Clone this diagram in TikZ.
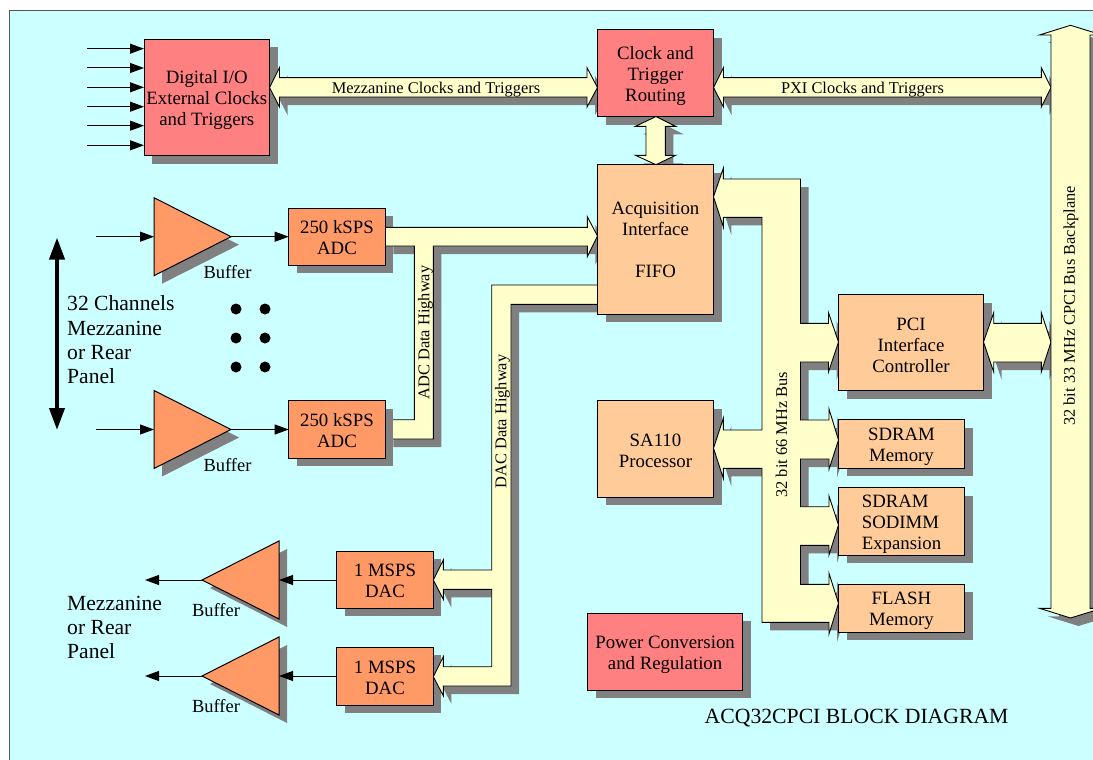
\documentclass[tikz,border=0pt]{standalone}
\usepackage{fontspec}
\setmainfont{Liberation Serif}
\usetikzlibrary{arrows.meta,shapes.geometric}
\definecolor{bgc}{HTML}{CCFFFF}
\definecolor{redc}{HTML}{FF8080}
\definecolor{orangec}{HTML}{FF9966}
\definecolor{peachc}{HTML}{FFCC99}
\definecolor{creamc}{HTML}{FFFFCC}
\definecolor{shc}{HTML}{808080}
\definecolor{framec}{HTML}{555555}
\pgfdeclarelayer{bshadow}
\pgfdeclarelayer{buslayer}
\pgfdeclarelayer{topshadow}
\pgfsetlayers{bshadow,buslayer,topshadow,main}
\tikzset{
  block/.style={draw=black,line width=1pt,inner sep=0pt,outer sep=0pt,align=center,
    font=\fontsize{18.8}{21}\selectfont},
  redblock/.style={block,fill=redc},
  peachblock/.style={block,fill=peachc},
  orangeblock/.style={block,fill=orangec},
  bus/.style={draw=black,line width=.9pt,fill=creamc,
    preaction={fill=shc,draw=none,transform canvas={shift={(8pt,-8pt)}}}},
  buf/.style={isosceles triangle,isosceles triangle stretches=true,draw=black,line width=1pt,
    fill=orangec,inner sep=0pt,outer sep=0pt,minimum height=77pt,minimum width=78pt,
    preaction={fill=shc,draw=none,transform canvas={shift={(8pt,-8pt)}}}},
  sig/.style={line width=1pt,-{Triangle[length=14pt,width=10pt]}},
  thickarrow/.style={line width=4pt,{Triangle[length=22pt,width=15pt]}-{Triangle[length=22pt,width=15pt]}},
  buflabel/.style={inner sep=0pt,font=\fontsize{18.5}{21}\selectfont},
  buslabel/.style={inner sep=0pt,font=\fontsize{16.4}{18}\selectfont},
  sidelabel/.style={inner sep=0pt,anchor=west,align=left,font=\fontsize{21.6}{24.3}\selectfont},
  blob/.style={circle,fill=black,inner sep=0pt,minimum size=11pt},
}
\newcommand{\dn}[1]{\rule{0pt}{\dimexpr 13pt+#1pt+#1pt\relax}}
\newcommand{\blkn}[7]{%
  \pgfmathsetmacro\rkW{#5-#3}\pgfmathsetmacro\rkH{#6-#4}%
  \pgfmathsetmacro\rkX{(#3+#5)/2}\pgfmathsetmacro\rkY{(#4+#6)/2}%
  \node[#1,minimum width=\rkW pt,minimum height=\rkH pt] (#2) at (\rkX,\rkY) {#7};}
\newcommand{\shadowof}[2]{%
  \begin{pgfonlayer}{#2}
    \fill[shc] ([shift={(8,8)}]#1.north west) rectangle ([shift={(8,8)}]#1.south east);
  \end{pgfonlayer}}
\newcommand{\blk}[7]{\blkn{#1}{#2}{#3}{#4}{#5}{#6}{#7}\shadowof{#2}{bshadow}}
\begin{document}
\begin{tikzpicture}[x=1pt,y=-1pt]
\useasboundingbox (0,0) rectangle (1093,760);
\begin{pgfonlayer}{bshadow}
  \fill[white] (0,0) rectangle (1093,760);
  \draw[framec,fill=bgc,line width=1pt] (9.5,10.5) rectangle (1100,770);
\end{pgfonlayer}

% blocks
\blk{redblock}{digio}{144}{39.5}{269.5}{155.5}{\dn{3}Digital I/O\\External Clocks\\and Triggers}
\blk{redblock}{clock}{597.5}{30}{713.5}{116.5}{\dn{3}Clock and\\Trigger\\Routing}
\blk{peachblock}{acq}{597.5}{164.7}{713.5}{314.3}{\dn{0.5}Acquisition\\Interface\\[21pt]FIFO}
\blk{peachblock}{pci}{838.5}{294.7}{983.5}{390.7}{\dn{2}PCI\\Interface\\Controller}
\blk{peachblock}{sa}{597.5}{400.7}{713.5}{497.3}{\dn{2}SA110\\Processor}
\blk{peachblock}{sdram}{838.5}{419.7}{964.5}{468.3}{\dn{2.5}SDRAM\\Memory}
\blkn{peachblock,align=left}{sodimm}{838.5}{487.7}{964.5}{555}{\dn{2.5}SDRAM\\SODIMM\\Expansion}\shadowof{sodimm}{bshadow}
\blk{peachblock}{flash}{838.5}{584.3}{964.5}{632.3}{\dn{2.5}FLASH\\Memory}
\blk{redblock}{power}{587.5}{613}{742.7}{690}{\dn{3}Power Conversion\\and Regulation}
\blk{orangeblock}{adca}{288.7}{208}{385.3}{265.3}{\dn{1}250 kSPS\\ADC}
\blkn{orangeblock}{adcb}{288.7}{400.7}{385.3}{458}{\dn{1}250 kSPS\\ADC}\shadowof{adcb}{topshadow}
\blk{orangeblock}{daca}{336.7}{551}{433.3}{608.3}{\dn{1}1 MSPS\\DAC}
\blk{orangeblock}{dacb}{336.7}{647}{433.3}{705.3}{\dn{1}1 MSPS\\DAC}

% block arrows
\begin{pgfonlayer}{buslayer}
\draw[bus] (269.5,87.5) -- (279.5,67.7) -- (279.5,77.7) -- (587,77.7) -- (587,67.7) -- (597.5,87.5)
  -- (587,107) -- (587,97) -- (279.5,97) -- (279.5,107) -- cycle;
\draw[bus] (713.5,87.5) -- (723.5,67.7) -- (723.5,77.7) -- (1041.3,77.7) -- (1041.3,67.7) -- (1051,87.5)
  -- (1041.3,107) -- (1041.3,97) -- (723.5,97) -- (723.5,107) -- cycle;
\draw[bus] (656,116.5) -- (675.6,126.3) -- (665.4,126.3) -- (665.4,155.3) -- (675.6,155.3) -- (656,164.7)
  -- (635.5,155.3) -- (646,155.3) -- (646,126.3) -- (635.5,126.3) -- cycle;
% ADC highway
\draw[bus] (385.3,227.3) -- (587.3,227.3) -- (587.3,216.7) -- (597.5,236) -- (587.3,256.7) -- (587.3,246)
  -- (433.3,246) -- (433.3,439) -- (385.3,439) -- (385.3,419.7) -- (414.3,419.7) -- (414.3,246) -- (385.3,246) -- cycle;
% DAC highway
\draw[bus] (597.5,285) -- (491.7,285) -- (491.7,570) -- (443.3,570) -- (443.3,560) -- (433.3,580)
  -- (443.3,599.3) -- (443.3,589.3) -- (491.7,589.3) -- (491.7,666.7) -- (443.3,666.7) -- (443.3,656.7)
  -- (433.3,676.7) -- (443.3,695.7) -- (443.3,686) -- (511,686) -- (511,304.3) -- (597.5,304.3) -- cycle;
% 32 bit 66 MHz bus
\draw[bus] (713.5,196.7) -- (723.3,168.3) -- (723.3,179) -- (800.5,179) -- (800.5,323.3) -- (828.5,323.3)
  -- (828.5,312.7) -- (838.5,342) -- (828.5,372) -- (828.5,362) -- (800.5,362) -- (800.5,420)
  -- (829,420) -- (829,409) -- (838.5,440) -- (829,469.3) -- (829,459) -- (800.5,459) -- (800.5,506.7)
  -- (829,506.7) -- (829,496) -- (838.5,525) -- (829,555) -- (829,545.3) -- (800.5,545.3) -- (800.5,584.3)
  -- (829,584.3) -- (829,573.3) -- (838.5,603.3) -- (829,634) -- (829,622.3) -- (762,622.3) -- (762,468.3)
  -- (723.3,468.3) -- (723.3,478.3) -- (713.5,448.3) -- (723.3,418.3) -- (723.3,430) -- (762,430)
  -- (762,217.3) -- (723.3,217.3) -- (723.3,227) -- cycle;
% PCI to backplane
\draw[bus] (983.5,342) -- (993.7,312.7) -- (993.7,323.3) -- (1041.3,323.3) -- (1041.3,312.7) -- (1051,342)
  -- (1041.3,372) -- (1041.3,362) -- (993.7,362) -- (993.7,372) -- cycle;
% backplane
\draw[bus] (1070.5,25.3) -- (1102,35) -- (1090,35) -- (1090,608.3) -- (1102,608.3) -- (1070.5,618)
  -- (1039.5,608.3) -- (1051,608.3) -- (1051,35) -- (1039.5,35) -- cycle;
\end{pgfonlayer}

% buffers
\node[buf,anchor=apex] (bufa) at (231,236.7) {};
\node[buf,anchor=apex] (bufb) at (231,429.5) {};
\node[buf,shape border rotate=180,anchor=apex] (bufc) at (202,580) {};
\node[buf,shape border rotate=180,anchor=apex] (bufd) at (202,676) {};

% thin signal arrows
\foreach \i/\yy in {1/48.7,2/68,3/87.3,4/106.7,5/125.7,6/145.3}{
  \coordinate (in\i) at (87,\yy);
  \draw[sig] (in\i) -- (digio.west |- in\i);
}
\coordinate (ina) at (96,236.7);
\coordinate (inb) at (96,429.5);
\draw[sig] (ina) -- (bufa.lower side);
\draw[sig] (inb) -- (bufb.lower side);
\draw[sig] (bufa.apex) -- (adca.west |- bufa.apex);
\draw[sig] (bufb.apex) -- (adcb.west |- bufb.apex);
\draw[sig] (daca.west |- bufc.apex) -- (bufc.lower side);
\draw[sig] (dacb.west |- bufd.apex) -- (bufd.lower side);
\coordinate (outa) at (145,580);
\coordinate (outb) at (145,676);
\draw[sig] (bufc.apex) -- (outa);
\draw[sig] (bufd.apex) -- (outb);
\coordinate (chtop) at (57,237.5);
\coordinate (chbot) at (57,430);
\draw[thickarrow] (chtop) -- (chbot);

% dots
\foreach \n/\xx/\yy in {a/236/309,b/265/309,c/236/338,d/265/338,e/236/367,f/265/367}
  \node[blob] (dot\n) at (\xx,\yy) {};

% labels
\node[buflabel] (bla) at (227.5,272) {Buffer};
\node[buflabel] (blb) at (227.5,465) {Buffer};
\node[buflabel] (blc) at (216,610) {Buffer};
\node[buflabel] (bld) at (216,706) {Buffer};
\node[buslabel] (lmez) at (436,89.5) {Mezzanine Clocks and Triggers};
\node[buslabel] (lpxi) at (862.5,89.5) {PXI Clocks and Triggers};
\node[buslabel,rotate=90] (ladc) at (425.5,332.5) {ADC Data Highway};
\node[buslabel,rotate=90] (ldac) at (502.5,421.5) {DAC Data Highway};
\node[buslabel,rotate=90] (lbus) at (781.5,434.7) {32 bit 66 MHz Bus};
\node[buslabel,rotate=90] (lback) at (1071,306) {32 bit 33 MHz CPCI Bus Backplane};
\node[sidelabel] (chan) at (67,340) {32 Channels\\Mezzanine\\or Rear\\Panel};
\node[sidelabel] (mez) at (67,627.5) {Mezzanine\\or Rear\\Panel};
\node[inner sep=0pt,anchor=west,font=\fontsize{21.7}{24}\selectfont] (title) at (704.5,718.5) {ACQ32CPCI BLOCK DIAGRAM};
\end{tikzpicture}
\end{document}
